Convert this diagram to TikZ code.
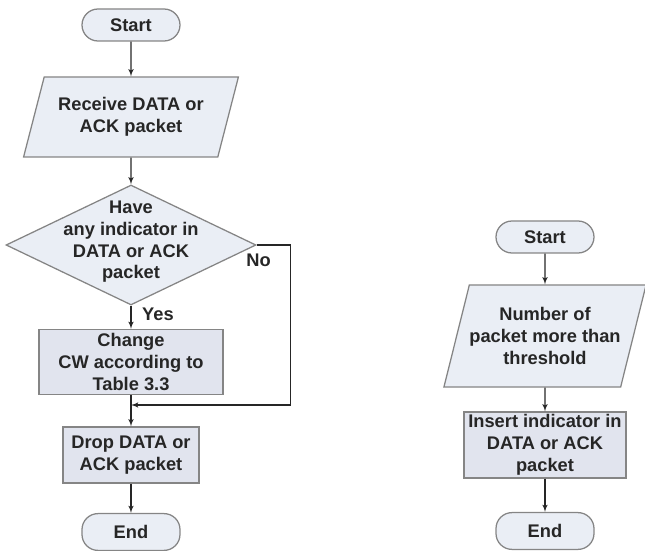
\documentclass[tikz,border=0pt]{standalone}
\usepackage{fontspec}
\setmainfont{Liberation Sans}
\usepackage{tikz}
\usetikzlibrary{arrows}
\usetikzlibrary{positioning}
\usetikzlibrary{shapes.geometric}
\definecolor{boxfill}{HTML}{EAEEF5}
\definecolor{procfill}{HTML}{E1E4EE}
\definecolor{boxline}{HTML}{858585}
\definecolor{boxtext}{HTML}{262626}
\tikzstyle{every node}+=[inner sep=0pt]
\tikzstyle{terminal} = [rectangle, draw=boxline, fill=boxfill, line width=0.9pt, rounded corners=0.4cm, minimum width=2.45cm, minimum height=0.8cm, font=\bfseries\fontsize{13}{15.5}\selectfont, text=boxtext]
\tikzstyle{io} = [trapezium, trapezium left angle=66, trapezium right angle=114, trapezium stretches=true, draw=boxline, fill=boxfill, line width=0.9pt, font=\bfseries\fontsize{13}{15.5}\selectfont, text=boxtext]
\tikzstyle{block} = [rectangle, draw=boxline, fill=procfill, line width=0.9pt, font=\bfseries\fontsize{13}{15.5}\selectfont, text=boxtext]
\tikzstyle{decision} = [diamond, draw=boxline, fill=boxfill, line width=0.9pt, minimum width=6.25cm, minimum height=3cm]
\tikzstyle{line} = [draw, black!85, line width=0.8pt, -latex']
\tikzstyle{value} = [font=\bfseries\fontsize{13}{15.5}\selectfont, text=boxtext]

\begin{document}
\begin{tikzpicture}[node distance = 2cm, auto, every text node part/.style={align=center}]
            \useasboundingbox (-3.275,0.625) rectangle (12.85,-13.15);
            % Place nodes
            \node [terminal] (start1) {Start};
            \node [io, below of=start1, node distance=2.3cm, minimum width=5.375cm, minimum height=2cm] (recv) {Receive DATA or\\ACK packet};
            \node [decision, below of=recv, node distance=3.2cm] (dec) {};
            \node [value, yshift=0.08cm] (dectxt) at (dec) {Have\\any indicator in\\DATA or ACK\\packet};
            \node [block, below of=dec, node distance=2.925cm, minimum width=4.6cm, minimum height=1.625cm] (chg) {Change\\CW according to\\Table 3.3};
            \coordinate [below of=chg, node distance=1.075cm] (merge);
            \node [block, below of=chg, node distance=2.325cm, minimum width=3.4cm, minimum height=1.4cm] (drop) {Drop DATA or\\ACK packet};
            \node [terminal, below of=drop, node distance=1.925cm, minimum height=0.92cm] (end1) {End};
            \node [value, xshift=0.675cm, yshift=-0.225cm] (yes) at (dec.south) {Yes};
            \node [value, xshift=0.05cm, yshift=-0.375cm] (no) at (dec.east) {No};
            % second chart
            \node [terminal, right of=start1, node distance=10.35cm, yshift=-5.3cm] (start2) {Start};
            \node [io, below of=start2, node distance=2.475cm, minimum width=5.05cm, minimum height=2.55cm] (num) {Number of\\packet more than\\threshold};
            \node [block, below of=num, node distance=2.725cm, minimum width=4.05cm, minimum height=1.65cm] (ins) {Insert indicator in\\DATA or ACK\\packet};
            \node [terminal, below of=ins, node distance=2.15cm, minimum height=0.92cm] (end2) {End};
            % Draw edges
            \path [line] (start1) -- (recv);
            \path [line] (recv) -- (dec);
            \path [line] (dec) -- (chg);
            \path [line] (chg) -- (drop);
            \path [line] (dec.east) -- ++(0.85cm,0) |- (merge);
            \path [line] (drop) -- (end1);
            \path [line] (start2) -- (num);
            \path [line] (num) -- (ins);
            \path [line] (ins) -- (end2);
          \end{tikzpicture}
\end{document}
